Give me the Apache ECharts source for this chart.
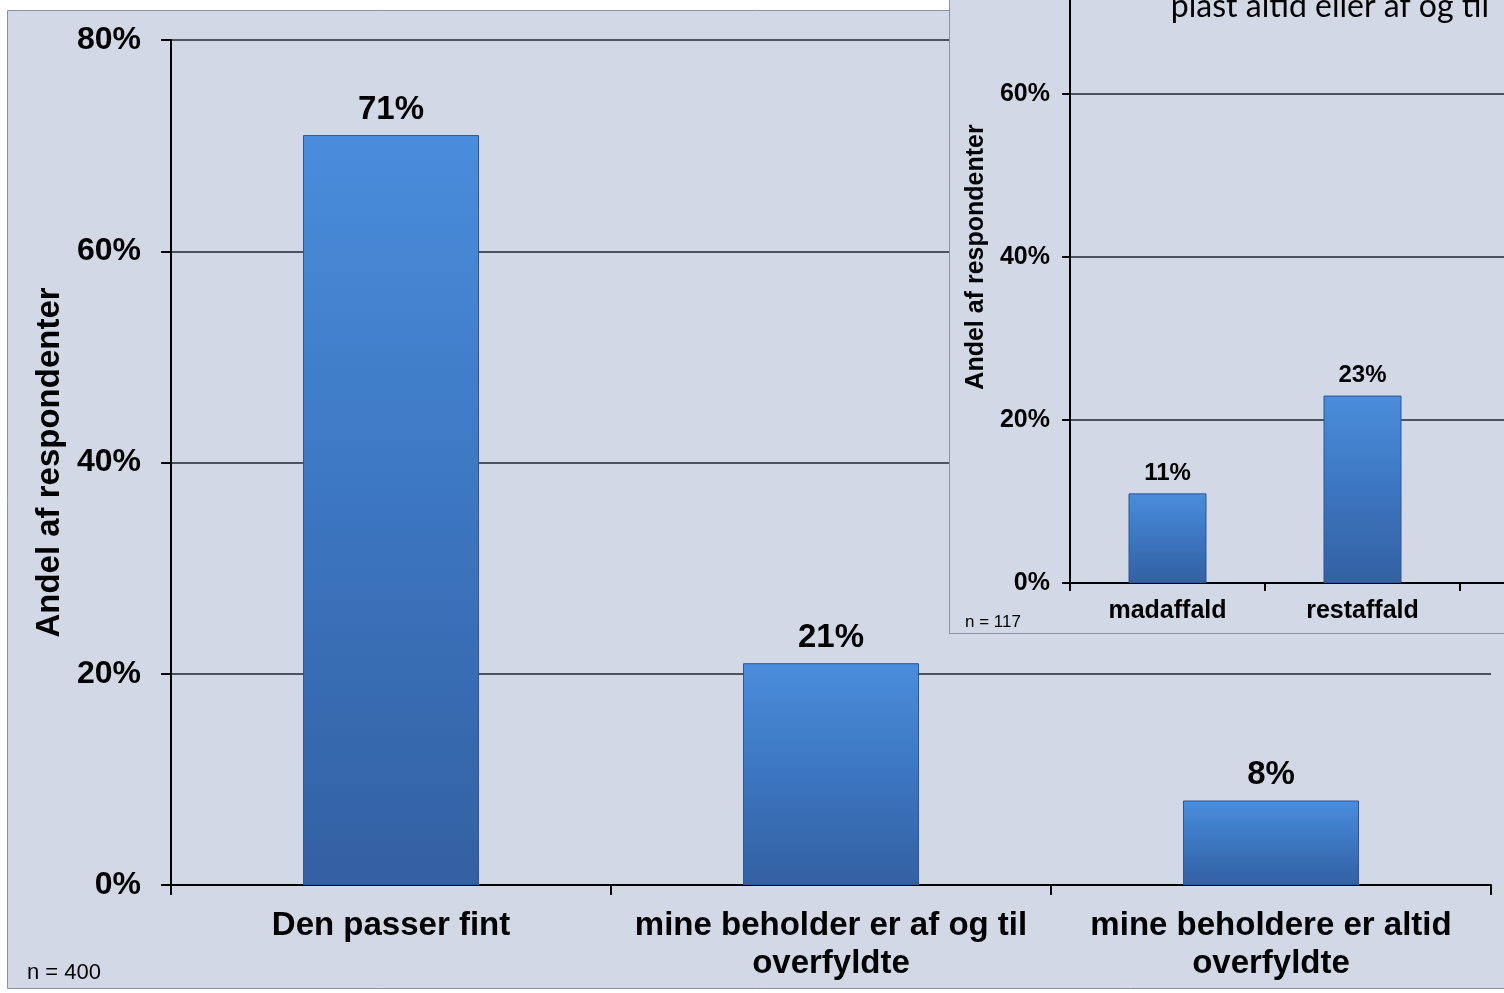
<!DOCTYPE html>
<html>
<head>
<meta charset="utf-8">
<script src="https://cdn.jsdelivr.net/npm/echarts@6/dist/echarts.min.js"></script>
<style>
  html, body { margin: 0; padding: 0; width: 1504px; height: 993px; overflow: hidden; background: #ffffff; }
  #main { position: absolute; left: 0; top: 0; width: 1504px; height: 993px; }
  #inset { position: absolute; left: 949px; top: -100px; width: 760px; height: 734px;
           box-sizing: border-box; border: 1px solid #8a93a5; background: #d2d8e6; }
</style>
</head>
<body>
<div id="main"></div>
<div id="inset"></div>
<script>
// ---- data ----
const mainCategories = ['Den passer fint', 'mine beholder er af og til\noverfyldte', 'mine beholdere er altid\noverfyldte'];
const mainValues = [71, 21, 8];
const insetCategories = ['madaffald', 'restaffald', 'plast'];
const insetValues = [11, 23, null];
const axisName = 'Andel af respondenter';
const mainNote = 'n = 400';
const insetNote = 'n = 117';
const insetTitleLine = 'plast altid eller af og til';

const FONT = '"Liberation Sans", Arial, sans-serif';
const barGradient = new echarts.graphic.LinearGradient(0, 0, 0, 1, [
  { offset: 0, color: '#4a8ddc' },
  { offset: 0.5, color: '#3c76c0' },
  { offset: 1, color: '#3360a2' }
]);

function buildOption(cfg) {
  return {
    animation: false,
    graphic: cfg.graphic,
    grid: cfg.grid,
    xAxis: {
      type: 'category',
      data: cfg.categories,
      axisLine: { lineStyle: { color: '#000000', width: 2 } },
      axisTick: { show: true, inside: false, length: cfg.tickLen, lineStyle: { color: '#000000', width: 2 } },
      axisLabel: { color: '#000000', fontFamily: FONT, fontWeight: 'bold', fontSize: cfg.catFont,
                   lineHeight: cfg.catLine, margin: cfg.catMargin, interval: 0 }
    },
    yAxis: {
      type: 'value', min: 0, max: 80, interval: 20,
      name: axisName, nameLocation: 'middle', nameGap: cfg.nameGap, nameRotate: 90,
      nameTextStyle: { color: '#000000', fontFamily: FONT, fontWeight: 'bold', fontSize: cfg.nameFont },
      axisLine: { show: true, lineStyle: { color: '#000000', width: 2 } },
      axisTick: { show: true, inside: false, length: cfg.tickLen, lineStyle: { color: '#000000', width: 2 } },
      axisLabel: { color: '#000000', fontFamily: FONT, fontWeight: 'bold', fontSize: cfg.tickFont,
                   margin: cfg.tickMargin, formatter: '{value}%' },
      splitLine: { show: true, lineStyle: { color: '#4d525e', width: 2 } }
    },
    series: [{
      type: 'bar',
      data: cfg.values,
      barCategoryGap: '60%',
      itemStyle: { color: barGradient, borderColor: '#2d5792', borderWidth: 1 },
      label: { show: true, position: 'top', distance: cfg.labelDist, formatter: '{c}%',
               color: '#000000', fontFamily: FONT, fontWeight: 'bold', fontSize: cfg.valFont }
    }]
  };
}

const mainChart = echarts.init(document.getElementById('main'), null, { renderer: 'canvas' });
mainChart.setOption(buildOption({
  categories: mainCategories,
  values: mainValues,
  grid: { left: 171, right: 13, top: 40, bottom: 108 },
  tickLen: 10, catFont: 33, catLine: 38, catMargin: 22,
  nameGap: 104, nameFont: 33, tickFont: 32, tickMargin: 30,
  labelDist: 9, valFont: 33,
  graphic: [
    { type: 'rect', z: -10, silent: true,
      shape: { x: 7.5, y: 10.5, width: 1520, height: 978 },
      style: { fill: '#d2d8e6', stroke: '#8a93a5', lineWidth: 1 } },
    { type: 'text', left: 27, top: 962, silent: true,
      style: { text: mainNote, fill: '#000000', font: '22px ' + FONT } }
  ]
}));

const insetChart = echarts.init(document.getElementById('inset'), null, { renderer: 'canvas' });
insetChart.setOption(buildOption({
  categories: insetCategories,
  values: insetValues,
  grid: { left: 120, right: 53, top: 30, bottom: 50 },
  tickLen: 8, catFont: 25, catLine: 28, catMargin: 14,
  nameGap: 75, nameFont: 25, tickFont: 25, tickMargin: 20,
  labelDist: 8, valFont: 24,
  graphic: [
    { type: 'text', left: 15, top: 713, silent: true,
      style: { text: insetNote, fill: '#000000', font: '17px ' + FONT } },
    { type: 'text', silent: true,
      style: { text: insetTitleLine, x: 539, y: 122, textAlign: 'right', textVerticalAlign: 'bottom',
               fill: '#000000', font: '32px Lato, "Open Sans", sans-serif' } }
  ]
}));
</script>
</body>
</html>
